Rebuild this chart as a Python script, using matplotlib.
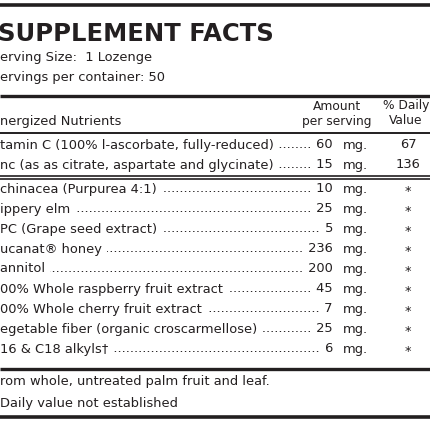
import matplotlib
matplotlib.use("Agg")
import matplotlib.pyplot as plt

title = "SUPPLEMENT FACTS"
serving = ["erving Size:  1 Lozenge", "ervings per container: 50"]
header_name = "nergized Nutrients"

names = ["tamin C (100% l-ascorbate, fully-reduced)",
         "nc (as as citrate, aspartate and glycinate)",
         "chinacea (Purpurea 4:1)",
         "ippery elm",
         "PC (Grape seed extract)",
         "ucanat\u00ae honey",
         "annitol",
         "00% Whole raspberry fruit extract",
         "00% Whole cherry fruit extract",
         "egetable fiber (organic croscarmellose)",
         "16 & C18 alkyls\u2020"]
amounts = ["60", "15", "10", "25", "5", "236", "200", "45", "7", "25", "6"]
daily = ["67", "136", "*", "*", "*", "*", "*", "*", "*", "*", "*"]
footnotes = ["rom whole, untreated palm fruit and leaf.", "Daily value not established"]

fig = plt.figure(figsize=(4.3, 4.3), dpi=100)
ax = fig.add_axes([0, 0, 1, 1])
ax.set_xlim(0, 430)
ax.set_ylim(430, 0)
ax.axis("off")

fs = 9.4
col = "#231f20"

def hline(y, lw):
    ax.plot([0, 430], [y, y], color=col, lw=lw, solid_capstyle="butt")

hline(5, 2.6)
ax.text(-2, 34, title, fontsize=17.5, fontweight="bold", color=col, va="center")
ax.text(0, 57, serving[0], fontsize=fs, color=col, va="center")
ax.text(0, 78, serving[1], fontsize=fs, color=col, va="center")
hline(96, 2.4)
ax.text(337, 106, "Amount", fontsize=fs - 0.6, color=col, va="center", ha="center")
ax.text(337, 121, "per serving", fontsize=fs - 0.6, color=col, va="center", ha="center")
ax.text(406, 106, "% Daily", fontsize=fs - 0.6, color=col, va="center", ha="center")
ax.text(406, 121, "Value", fontsize=fs - 0.6, color=col, va="center", ha="center")
ax.text(0, 121, header_name, fontsize=fs, color=col, va="center")
hline(133, 1.4)

ys = [145, 165] + [189 + 20 * i for i in range(9)]
for y, n, a, d in zip(ys, names, amounts, daily):
    ax.text(333, y, "." * 120, fontsize=fs, color=col, va="center", ha="right",
            zorder=1, clip_on=True)
    ax.text(0, y, n + " ", fontsize=fs, color=col, va="center", zorder=2,
            bbox=dict(facecolor="white", edgecolor="none", pad=0.5))
    ax.text(333, y, " " + a, fontsize=fs, color=col, va="center", ha="right", zorder=2,
            bbox=dict(facecolor="white", edgecolor="none", pad=0.5))
    ax.text(343, y, "mg.", fontsize=fs, color=col, va="center")
    ax.text(408, y + (2 if d == "*" else 0), d, fontsize=fs, color=col,
            va="center", ha="center")
hline(176, 1.2)
hline(179, 1.2)
hline(369, 2.4)
ax.text(0, 381, footnotes[0], fontsize=fs, color=col, va="center")
ax.text(0, 403, footnotes[1], fontsize=fs, color=col, va="center")
hline(417, 2.6)

fig.savefig("out.png", dpi=100, facecolor="white")
